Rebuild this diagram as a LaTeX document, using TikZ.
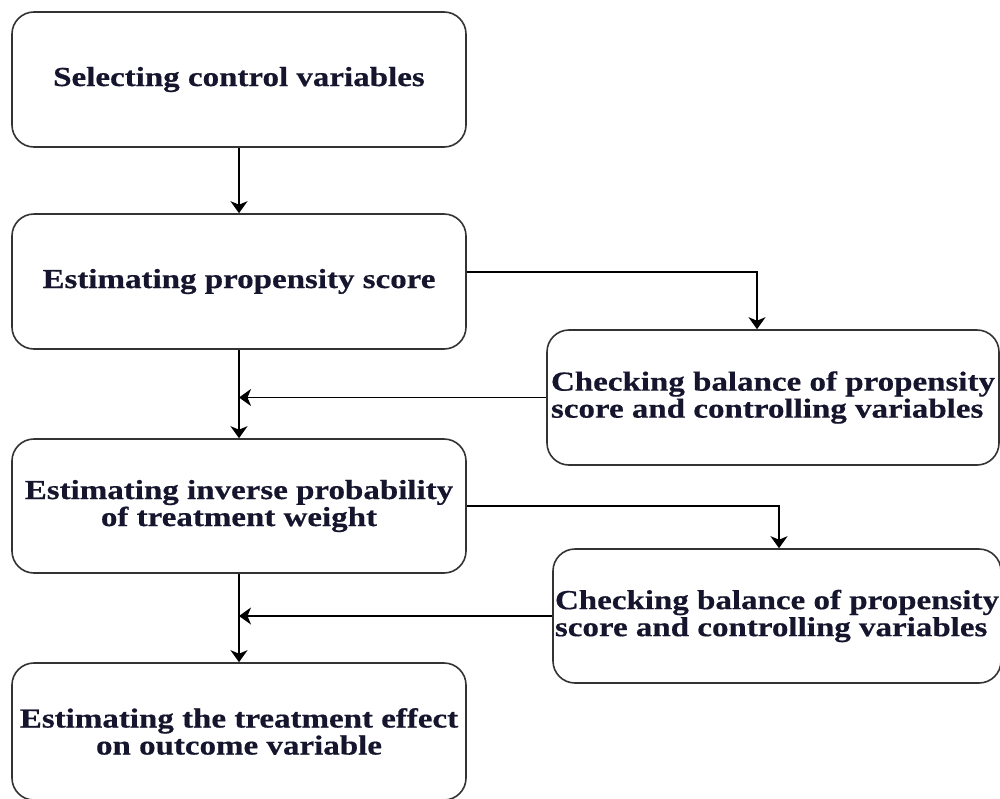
\documentclass[tikz,border=0pt]{standalone}
\usepackage{fontspec}
\newfontfamily\boxfont{Liberation Serif}[FakeStretch=1.2,FakeBold=0.5]
\usetikzlibrary{arrows.meta}
\definecolor{txtcol}{HTML}{15152E}
\definecolor{boxline}{HTML}{333333}
\begin{document}
\begin{tikzpicture}[x=1pt,y=-1pt,
  flowbox/.style={draw=boxline, line width=1.6pt, rounded corners=22pt, fill=white,
    inner sep=1pt, text=txtcol,
    font=\boxfont\bfseries\fontsize{27.5}{27}\selectfont},
  arr/.style={draw=black, line width=1.6pt, -{Stealth[length=12pt,width=17pt,inset=3.5pt]}}]
\fill[white] (0,0) rectangle (1000,798);
\useasboundingbox (0,0) rectangle (1000,798);

\node[flowbox, minimum width=454pt, minimum height=135pt, align=center] (b1) at (239,79.5) {Selecting control variables};
\node[flowbox, minimum width=454pt, minimum height=135pt, align=center] (b2) at (239,281.5) {Estimating propensity score};
\node[flowbox, minimum width=452pt, minimum height=135pt, align=left] (c1) at (773,397.5) {Checking balance of propensity\\score and controlling variables};
\node[flowbox, minimum width=454pt, minimum height=134pt, align=center] (b4) at (239,506) {Estimating inverse probability\\of treatment weight};
\node[flowbox, minimum width=448pt, minimum height=134pt, align=left] (c2) at (777,616) {Checking balance of propensity\\score and controlling variables};
\node[flowbox, minimum width=454pt, minimum height=137pt, align=center] (b6) at (239,731.5) {Estimating the treatment effect\\on outcome variable};

\draw[arr] (b1) -- (b2);
\draw[arr] ([yshift=9.5pt]b2.east) -| ([xshift=-16pt]c1.north);
\draw[arr] (c1.west) -- (c1.west -| b2.south);
\draw[arr] (b2) -- (b4);
\draw[arr] (b4.east) -| ([xshift=2pt]c2.north);
\draw[arr] (c2.west) -- (c2.west -| b4.south);
\draw[arr] (b4) -- (b6);
\end{tikzpicture}
\end{document}
